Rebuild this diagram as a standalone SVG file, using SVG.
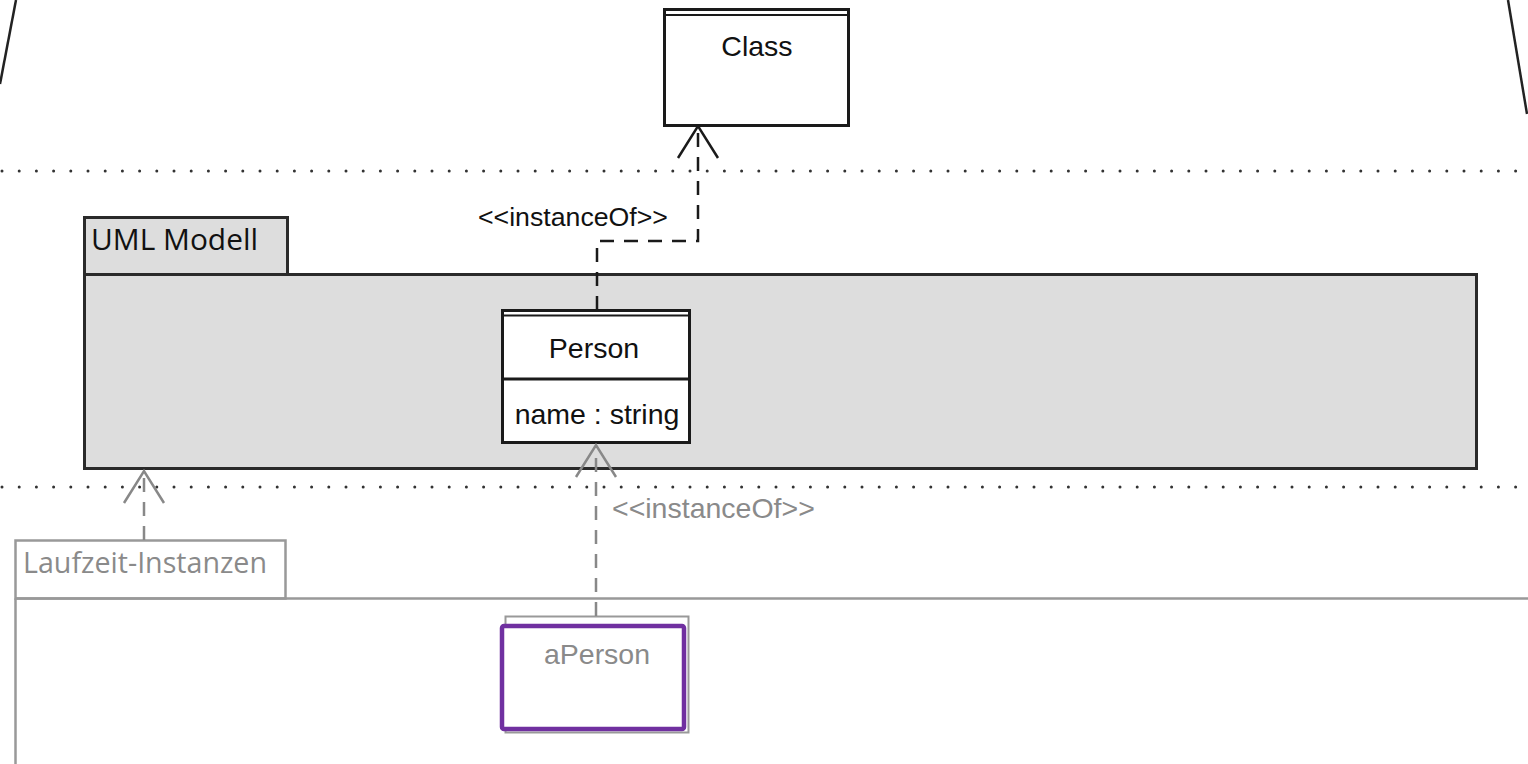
<svg xmlns="http://www.w3.org/2000/svg" width="1528" height="764" viewBox="0 0 1528 764">
  <defs>
    <style>
      .lbl { font-family: "Liberation Sans", Arial, sans-serif; font-size: 28.5px; fill: #111; }
      .lbl-gray { font-family: "Liberation Sans", Arial, sans-serif; font-size: 28.5px; fill: #8a8a8a; }
      .stereo { font-family: "Liberation Sans", Arial, sans-serif; font-size: 26.7px; fill: #111; }
      .pkg-name { font-family: "Open Sans", "Noto Sans", sans-serif; font-size: 29px; fill: #111; }
      .pkg-name-gray { font-family: "Open Sans", "Noto Sans", sans-serif; font-size: 28.8px; fill: #8a8a8a; }
      .box { fill: #fff; stroke: #1a1a1a; stroke-width: 3; }
      .dots { stroke: #333; stroke-width: 3; stroke-linecap: round; stroke-dasharray: 0 17.2; fill: none; }
      .dep { stroke: #1a1a1a; stroke-width: 2.5; stroke-dasharray: 14 10; fill: none; }
      .dep-gray { stroke: #888; stroke-width: 2.5; stroke-dasharray: 14 10; fill: none; }
      .head { stroke: #1a1a1a; stroke-width: 2.5; fill: none; }
      .head-gray { stroke: #888; stroke-width: 2.5; fill: none; }
    </style>
  </defs>
  <rect width="1528" height="764" fill="#fff"/>

  <!-- frame edges at the top -->
  <line x1="16" y1="0" x2="0" y2="84" stroke="#222" stroke-width="2.5"/>
  <line x1="1508" y1="0" x2="1527" y2="114" stroke="#222" stroke-width="2.5"/>

  <!-- level separators -->
  <line class="dots" x1="2" y1="171" x2="1528" y2="171"/>
  <line class="dots" x1="2" y1="487" x2="1528" y2="487"/>

  <!-- metaclass -->
  <g id="class">
    <rect class="box" x="664.5" y="9.5" width="184" height="116"/>
    <line x1="664.5" y1="15" x2="848.5" y2="15" stroke="#1a1a1a" stroke-width="2"/>
    <text class="lbl" x="757" y="56" text-anchor="middle">Class</text>
  </g>

  <!-- model package -->
  <g id="uml-modell">
    <rect x="84.5" y="217.5" width="203" height="57" fill="#dddddd" stroke="#2a2a2a" stroke-width="3"/>
    <rect x="84.5" y="274.5" width="1392" height="194" fill="#dddddd" stroke="#2a2a2a" stroke-width="3"/>
    <text class="pkg-name" x="91" y="250" textLength="167" lengthAdjust="spacingAndGlyphs">UML Modell</text>
  </g>

  <!-- model class -->
  <g id="person">
    <rect class="box" x="502.5" y="310.5" width="187" height="132"/>
    <line x1="502.5" y1="315.5" x2="689.5" y2="315.5" stroke="#1a1a1a" stroke-width="2"/>
    <line x1="502.5" y1="379" x2="689.5" y2="379" stroke="#1a1a1a" stroke-width="3"/>
    <text class="lbl" x="594" y="358" text-anchor="middle">Person</text>
    <text class="lbl" x="597" y="424" text-anchor="middle">name : string</text>
  </g>

  <!-- runtime package -->
  <g id="laufzeit-instanzen">
    <rect x="15.5" y="540.5" width="270" height="58" fill="#fff" stroke="#999" stroke-width="2.5"/>
    <path d="M15.5 598.5 H1530 M15.5 598.5 V770" fill="none" stroke="#999" stroke-width="2.5"/>
    <text class="pkg-name-gray" x="23" y="573" textLength="244" lengthAdjust="spacingAndGlyphs">Laufzeit-Instanzen</text>
  </g>

  <!-- runtime instance -->
  <g id="aperson">
    <rect x="505.5" y="616.5" width="183" height="116" fill="#fff" stroke="#999" stroke-width="2"/>
    <rect x="502" y="626" width="182" height="103" fill="#fff" stroke="#7030a0" stroke-width="4.5" rx="2"/>
    <text class="lbl-gray" x="597" y="664" text-anchor="middle">aPerson</text>
  </g>

  <!-- instanceOf dependencies -->
  <g id="connectors">
    <path class="dep" d="M597 310 V241 H698 V128"/>
    <path class="head" d="M678 158 L698 126 L718 158"/>
    <text class="stereo" x="478" y="226">&lt;&lt;instanceOf&gt;&gt;</text>

    <path class="dep-gray" d="M596 616 V446"/>
    <path class="head-gray" d="M576 477 L596 445 L616 477"/>
    <text class="lbl-gray" x="612" y="518">&lt;&lt;instanceOf&gt;&gt;</text>

    <path class="dep-gray" d="M144 540 V471"/>
    <path class="head-gray" d="M124 503 L144 471 L164 503"/>
  </g>
</svg>
